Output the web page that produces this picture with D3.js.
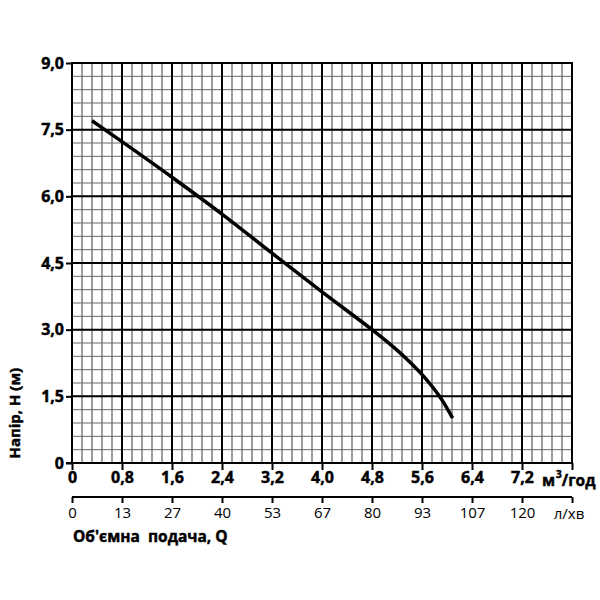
<!DOCTYPE html>
<html>
<head>
<meta charset="utf-8">
<script src="https://cdn.jsdelivr.net/npm/d3@7"></script>
<style>
  body { margin: 0; background: #fff; }
  text { font-family: "Open Sans", sans-serif; }
  .heavy { stroke: #000; stroke-width: 0.45px; }
</style>
</head>
<body>
<div class="chart"></div>
<script>
// pump curve data: flow Q (m3/h) vs head H (m)
const flowQ = [0.32, 0.8, 1.6, 2.4, 3.2, 4.0, 4.8, 5.15, 5.4, 5.62, 5.88, 6.09];
const headH = [7.70, 7.23, 6.43, 5.60, 4.72, 3.85, 3.0, 2.6, 2.28, 1.96, 1.5, 1.01];

const xTicks = [0, 0.8, 1.6, 2.4, 3.2, 4.0, 4.8, 5.6, 6.4, 7.2];
const xTickLabels = ["0", "0,8", "1,6", "2,4", "3,2", "4,0", "4,8", "5,6", "6,4", "7,2"];
const lpmLabels = ["0", "13", "27", "40", "53", "67", "80", "93", "107", "120"];
const yTicks = [0, 1.5, 3.0, 4.5, 6.0, 7.5, 9.0];
const yTickLabels = ["0", "1,5", "3,0", "4,5", "6,0", "7,5", "9,0"];

const margin = {top: 63, right: 28, bottom: 137, left: 72},
      width = 600 - margin.left - margin.right,
      height = 600 - margin.top - margin.bottom;

const svg = d3.select(".chart")
  .append("svg")
    .attr("width", 600)
    .attr("height", 600)
  .append("g")
    .attr("transform", `translate(${margin.left},${margin.top})`);

const x = d3.scaleLinear().domain([0, 8]).range([0, width]);
const y = d3.scaleLinear().domain([0, 9]).range([height, 0]);

// minor grid
const minorX = d3.range(0, 8.0001, 0.16);
const minorY = d3.range(0, 9.0001, 0.3);
svg.append("g").selectAll("line")
  .data(minorX)
  .join("line")
    .attr("x1", d => x(d)).attr("x2", d => x(d))
    .attr("y1", 0).attr("y2", height)
    .attr("stroke", "#3a3a3a").attr("stroke-width", 1);
svg.append("g").selectAll("line")
  .data(minorY)
  .join("line")
    .attr("x1", 0).attr("x2", width)
    .attr("y1", d => y(d)).attr("y2", d => y(d))
    .attr("stroke", "#6a6a6a").attr("stroke-width", 1);

// major grid
svg.append("g").selectAll("line")
  .data(xTicks)
  .join("line")
    .attr("x1", d => x(d)).attr("x2", d => x(d))
    .attr("y1", 0).attr("y2", height)
    .attr("stroke", "#000").attr("stroke-width", 2);
svg.append("g").selectAll("line")
  .data(yTicks)
  .join("line")
    .attr("x1", 0).attr("x2", width)
    .attr("y1", d => y(d)).attr("y2", d => y(d))
    .attr("stroke", "#000").attr("stroke-width", 2);

// frame
svg.append("rect")
  .attr("x", 0).attr("y", 0)
  .attr("width", width).attr("height", height)
  .attr("fill", "none").attr("stroke", "#000").attr("stroke-width", 2);

// y axis
const yAxis = svg.append("g")
  .call(d3.axisLeft(y).tickValues(yTicks).tickSize(6).tickPadding(2)
    .tickFormat((d, i) => yTickLabels[i]));
yAxis.select(".domain").remove();
yAxis.selectAll(".tick line").attr("stroke-width", 2);
yAxis.selectAll(".tick text")
  .attr("class", "heavy")
  .attr("font-weight", "bold")
  .attr("font-size", 16).attr("fill", "#000");

// bottom axis (m3/h)
const xAxis = svg.append("g")
  .attr("transform", `translate(0,${height})`)
  .call(d3.axisBottom(x).tickValues(xTicks.concat([8])).tickSize(7).tickPadding(2)
    .tickFormat((d, i) => i < xTickLabels.length ? xTickLabels[i] : ""));
xAxis.select(".domain").attr("d", `M-6,0H${width}`).attr("stroke-width", 2);
xAxis.selectAll(".tick line").attr("stroke-width", 2);
xAxis.selectAll(".tick text")
  .attr("class", "heavy")
  .attr("font-weight", "bold")
  .attr("font-size", 16).attr("fill", "#000");

const unit = svg.append("text")
  .attr("class", "heavy")
  .attr("x", x(8) - 30).attr("y", height + 23)
  .attr("font-weight", "bold").attr("font-size", 15.5);
unit.append("tspan").text("м");
unit.append("tspan").attr("dx", 1).attr("dy", -8).attr("font-size", 10).text("3");
unit.append("tspan").attr("dy", 8).text("/год");

// second axis (l/min)
const lAxis = svg.append("g")
  .attr("transform", `translate(0,${height + 34})`)
  .call(d3.axisBottom(x).tickValues(xTicks.concat([8])).tickSize(6).tickPadding(4)
    .tickFormat((d, i) => i < lpmLabels.length ? lpmLabels[i] : ""));
lAxis.select(".domain").attr("d", `M0,0H${width}`).attr("stroke-width", 2);
lAxis.selectAll(".tick line").attr("stroke-width", 2);
lAxis.selectAll(".tick text")
  .attr("font-size", 15).attr("fill", "#000");

svg.append("text")
  .attr("x", x(8) - 3).attr("y", height + 56)
  .attr("text-anchor", "middle")
  .attr("font-size", 15)
  .text("л/хв");

svg.append("text")
  .attr("class", "heavy")
  .attr("x", 1).attr("y", height + 79)
  .attr("font-weight", "bold").attr("font-size", 15.5)
  .style("white-space", "pre")
  .text("Об'ємна  подача, Q");

svg.append("text")
  .attr("class", "heavy")
  .attr("transform", `translate(${-52},${y(1.12)}) rotate(-90)`)
  .attr("text-anchor", "middle")
  .attr("font-weight", "bold").attr("font-size", 15)
  .text("Напір, H (м)");

// pump curve
const pts = flowQ.map((q, i) => [q, headH[i]]);
svg.append("path")
  .datum(pts)
  .attr("fill", "none")
  .attr("stroke", "#000")
  .attr("stroke-width", 3.5)
  .attr("d", d3.line()
    .x(d => x(d[0]))
    .y(d => y(d[1]))
    .curve(d3.curveCatmullRom.alpha(0.5)));
</script>
</body>
</html>
